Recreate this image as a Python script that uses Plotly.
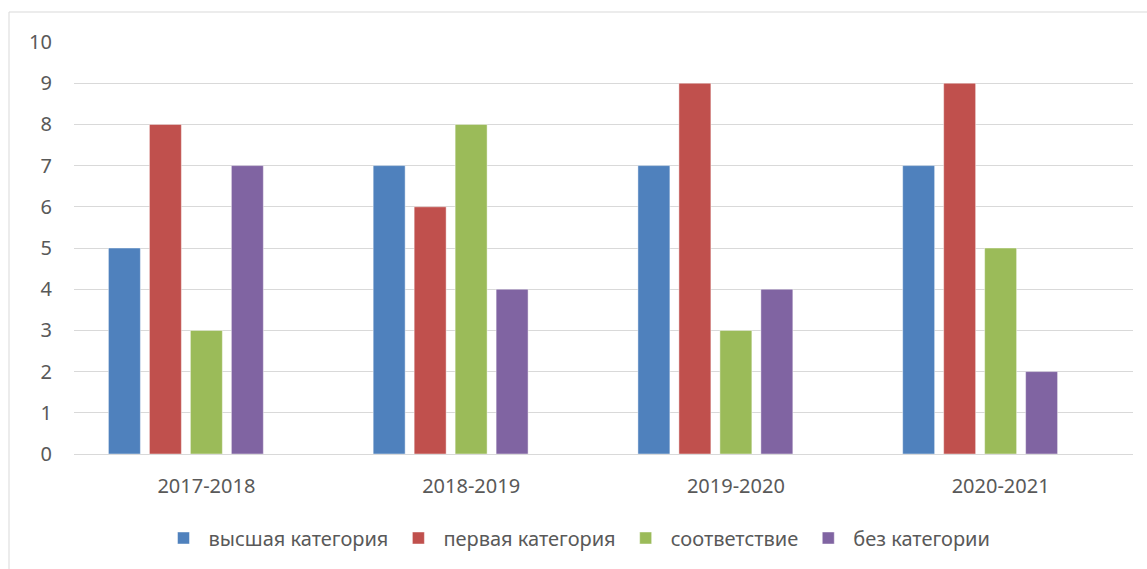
import plotly.graph_objects as go

categories = ["2017-2018", "2018-2019", "2019-2020", "2020-2021"]
series_names = ["высшая категория", "первая категория", "соответствие", "без категории"]
vysshaya = [5, 7, 7, 7]
pervaya = [8, 6, 9, 9]
sootvetstvie = [3, 8, 3, 5]
bez_kategorii = [7, 4, 4, 2]
y_ticks = list(range(0, 11))

colors = ["#4F81BD", "#C0504D", "#9BBB59", "#8064A2"]
values = [vysshaya, pervaya, sootvetstvie, bez_kategorii]

W, H = 1147, 569
L, R, T, B = 74, 14, 42, 115
pw, ph = W - L - R, H - T - B

fig = go.Figure()
for name, vals, c in zip(series_names, values, colors):
    fig.add_trace(go.Bar(
        x=categories, y=vals, name=name,
        marker=dict(color=c, line=dict(color="rgba(255,255,255,0.6)", width=0.75)),
    ))
# empty fifth series slot (as in the original spreadsheet chart)
fig.add_trace(go.Bar(x=categories, y=[None] * 4, showlegend=False, hoverinfo="skip",
                     marker=dict(color="rgba(0,0,0,0)")))

font = "Noto Sans"
fig.update_layout(
    width=W, height=H,
    margin=dict(l=L, r=R, t=T, b=B),
    paper_bgcolor="white", plot_bgcolor="white",
    barmode="group", bargap=0.226, bargroupgap=0.22,
    font=dict(family=font, size=20, color="#595959"),
    showlegend=True,
    legend=dict(orientation="h", x=(577 - L) / pw, xanchor="center",
                y=(H - B - 538) / ph, yanchor="middle",
                font=dict(family=font, size=20, color="#595959"),
                itemwidth=40, traceorder="normal"),
    xaxis=dict(showgrid=False, showline=False, ticks="",
               tickfont=dict(family=font, size=20, color="#595959"),
               ticklabelstandoff=18),
    yaxis=dict(range=[0, 10], tickvals=y_ticks, showgrid=True, gridcolor="#D9D9D9",
               gridwidth=1, zeroline=True, zerolinecolor="#D9D9D9", zerolinewidth=1,
               showline=False, ticks="",
               tickfont=dict(family=font, size=20, color="#595959"),
               ticklabelstandoff=21),
    shapes=[dict(type="rect", xref="paper", yref="paper",
                 x0=(9 - L) / pw, x1=(W + 5 - L) / pw,
                 y0=(H - B - (H + 5)) / ph, y1=(H - B - 12) / ph,
                 line=dict(color="#D9D9D9", width=1), fillcolor="rgba(0,0,0,0)",
                 layer="below")],
)

fig.write_html("out.html", config={"displayModeBar": False},
               post_script="document.body.style.margin='0';document.body.style.overflow='hidden';")
